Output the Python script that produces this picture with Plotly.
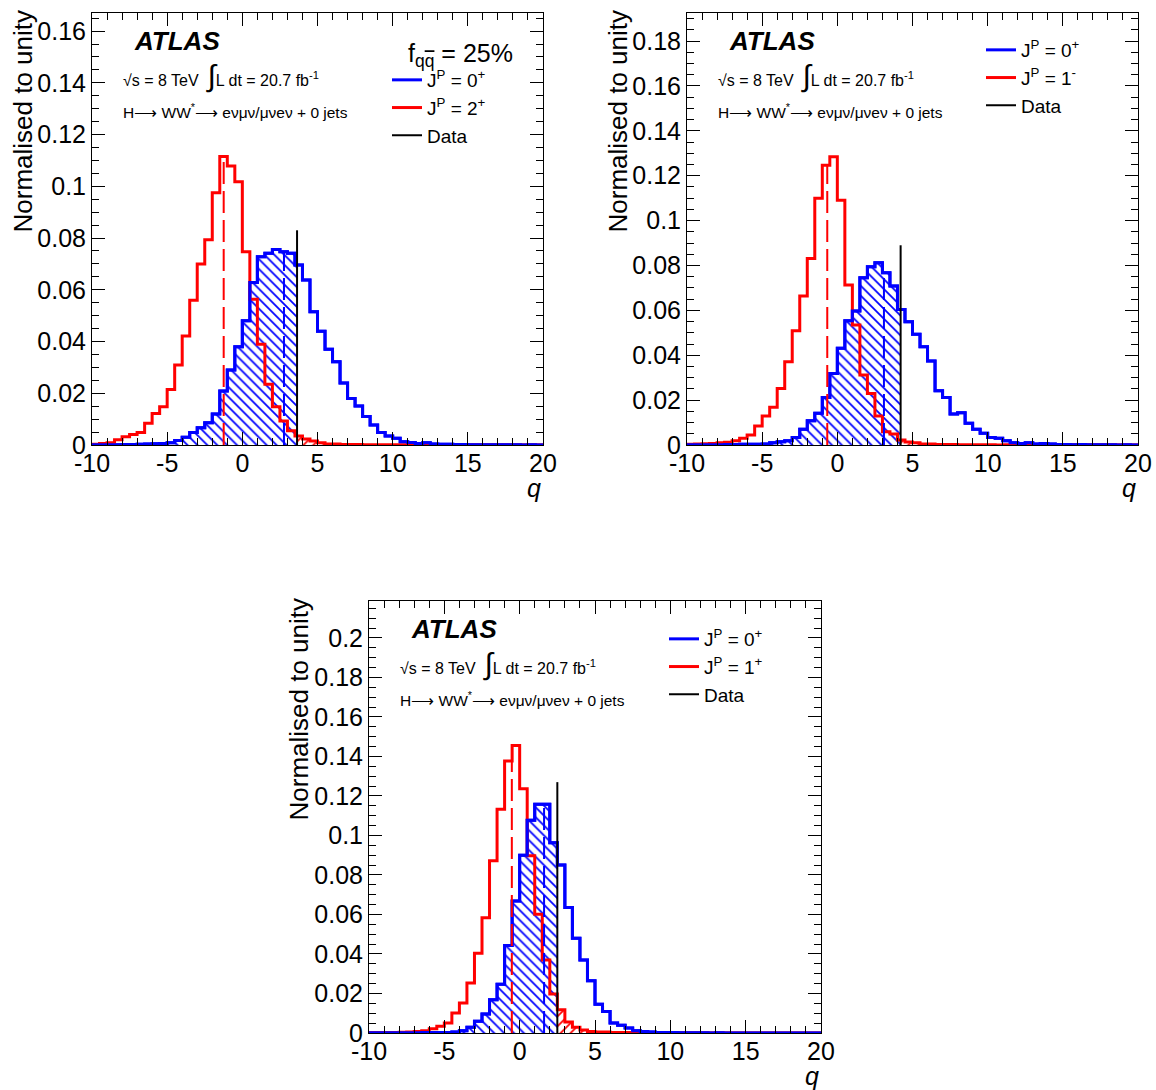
import numpy as np
import plotly.graph_objects as go

# ---------------- data ----------------
bin_lo, bin_w, n_bins = -10.0, 0.5, 60

# panel 1 : 0+ vs 2+ (f_qqbar = 25%)
p1_spin0 = [0.0001,0.0001,0.0001,0.0001,0.0002,0.0002,0.0003,0.0004,0.0005,0.0006,
            0.0009,0.0017,0.0030,0.0048,0.0067,0.0086,0.0120,0.0209,0.0290,0.0380,
            0.0480,0.0628,0.0728,0.0741,0.0756,0.0747,0.0741,0.0696,0.0638,0.0515,
            0.0440,0.0370,0.0322,0.0240,0.0180,0.0151,0.0110,0.0077,0.0048,0.0035,
            0.0026,0.0013,0.0010,0.0006,0.0009,0.0004,0.0003,0.0003,0.0002,0.0002,
            0.0001,0.0001,0.0001,0.0001,0.0001,0.0001,0.0001,0.0000,0.0001,0.0000]
p1_alt = [0.0003,0.0006,0.0009,0.0020,0.0032,0.0041,0.0048,0.0084,0.0122,0.0148,
          0.0215,0.0309,0.0421,0.0560,0.0700,0.0793,0.0975,0.1115,0.1079,0.1018,
          0.0747,0.0563,0.0389,0.0235,0.0148,0.0093,0.0055,0.0035,0.0023,0.0015,
          0.0009,0.0004,0.0004,0.0002,0.0002,0.0002,0.0001,0.0001,0.0001,0.0001,
          0.0001,0.0001,0.0001,0.0001,0.0000,0.0001,0.0000,0.0000,0.0001,0.0000,
          0.0000,0.0000,0.0000,0.0000,0.0000,0.0000,0.0000,0.0000,0.0000,0.0000]

# panel 2 : 0+ vs 1-
p2_spin0 = [0.0001,0.0001,0.0001,0.0001,0.0001,0.0002,0.0002,0.0003,0.0003,0.0003,
            0.0004,0.0010,0.0015,0.0019,0.0033,0.0070,0.0108,0.0141,0.0212,0.0319,
            0.0431,0.0554,0.0597,0.0745,0.0794,0.0812,0.0768,0.0708,0.0604,0.0549,
            0.0494,0.0438,0.0374,0.0242,0.0212,0.0138,0.0144,0.0097,0.0070,0.0052,
            0.0033,0.0030,0.0019,0.0010,0.0007,0.0010,0.0004,0.0007,0.0004,0.0002,
            0.0002,0.0001,0.0002,0.0001,0.0001,0.0001,0.0001,0.0000,0.0001,0.0000]
p2_alt = [0.0003,0.0004,0.0006,0.0007,0.0010,0.0012,0.0019,0.0030,0.0045,0.0085,
          0.0129,0.0168,0.0252,0.0371,0.0509,0.0664,0.0831,0.1099,0.1247,0.1284,
          0.1091,0.0713,0.0535,0.0312,0.0230,0.0129,0.0059,0.0049,0.0022,0.0013,
          0.0010,0.0004,0.0004,0.0002,0.0002,0.0002,0.0001,0.0001,0.0001,0.0001,
          0.0001,0.0000,0.0001,0.0000,0.0000,0.0000,0.0000,0.0000,0.0000,0.0000,
          0.0000,0.0000,0.0000,0.0000,0.0000,0.0000,0.0000,0.0000,0.0000,0.0000]

# panel 3 : 0+ vs 1+
p3_spin0 = [0.0001,0.0001,0.0001,0.0001,0.0001,0.0001,0.0001,0.0002,0.0002,0.0002,
            0.0003,0.0005,0.0012,0.0029,0.0059,0.0096,0.0168,0.0247,0.0443,0.0668,
            0.0900,0.1077,0.1158,0.1158,0.0963,0.0850,0.0635,0.0480,0.0370,0.0264,
            0.0146,0.0109,0.0051,0.0039,0.0025,0.0012,0.0008,0.0005,0.0003,0.0002,
            0.0002,0.0001,0.0001,0.0001,0.0001,0.0000,0.0001,0.0000,0.0000,0.0000,
            0.0000,0.0000,0.0000,0.0000,0.0000,0.0000,0.0000,0.0000,0.0000,0.0000]
p3_alt = [0.0002,0.0002,0.0003,0.0003,0.0004,0.0005,0.0008,0.0012,0.0022,0.0034,
          0.0051,0.0101,0.0152,0.0253,0.0404,0.0584,0.0872,0.1133,0.1377,0.1456,
          0.1237,0.0897,0.0601,0.0370,0.0197,0.0118,0.0056,0.0029,0.0015,0.0008,
          0.0005,0.0005,0.0003,0.0002,0.0002,0.0001,0.0001,0.0001,0.0001,0.0000,
          0.0000,0.0000,0.0000,0.0000,0.0000,0.0000,0.0000,0.0000,0.0000,0.0000,
          0.0000,0.0000,0.0000,0.0000,0.0000,0.0000,0.0000,0.0000,0.0000,0.0000]

alt_labels = ["J<sup>P</sup> = 2<sup>+</sup>", "J<sup>P</sup> = 1<sup>-</sup>", "J<sup>P</sup> = 1<sup>+</sup>"]
spin0_label = "J<sup>P</sup> = 0<sup>+</sup>"
q_observed = [3.64, 4.21, 2.50]
data_line_top = [0.083, 0.089, 0.127]
median_spin0 = [2.77, 3.10, 1.62]
median_alt = [-1.24, -0.67, -0.52]
y_max = [0.167, 0.1925, 0.2187]
y_tick_step = 0.02
x_tick_vals = [-10, -5, 0, 5, 10, 15, 20]
x_tick_text = ["-10", "-5", "0", "5", "10", "15", "20"]

# ---------------- layout geometry (screen pixels) ----------------
W, H = 1156, 1090
panels_px = [(92, 13, 543, 445), (687, 13, 1138, 445), (369, 601, 821, 1033)]
legend_px = [(387, 61), (981, 31), (664, 620)]
ytitle_px = [(22, 8), (617, 8), (298, 596)]

def PX(X): return X / W
def PY(Y): return 1 - Y / H

FONT = "Liberation Sans, Arial, Helvetica, sans-serif"
BLUE, RED = "rgb(0,0,255)", "rgb(255,0,0)"

edges = bin_lo + bin_w * np.arange(n_bins + 1)

def step_xy(vals):
    v = list(vals)
    return list(edges), v + [v[-1]]

def bin_value(vals, x):
    i = int(np.floor((x - bin_lo) / bin_w))
    return vals[i]

fig = go.Figure()
series = [(p1_spin0, p1_alt), (p2_spin0, p2_alt), (p3_spin0, p3_alt)]

for p, (s0, alt) in enumerate(series):
    ax = "" if p == 0 else str(p + 1)
    xa, ya = "x" + ax, "y" + ax
    leg = "legend" + ax
    qd = q_observed[p]
    k = int(np.floor((qd - bin_lo) / bin_w))
    # blue hatched: left of data
    hx = list(edges[:k + 1]) + [qd]
    hy = list(s0[:k + 1]) + [s0[k]]
    fig.add_trace(go.Scatter(x=hx, y=hy, mode="lines", line=dict(width=0, shape="hv"),
                             fill="tozeroy", fillcolor="rgba(0,0,0,0)",
                             fillpattern=dict(shape="\\", fgcolor=BLUE, bgcolor="rgba(0,0,0,0)",
                                              fgopacity=1, size=7, solidity=0.25),
                             xaxis=xa, yaxis=ya, showlegend=False, hoverinfo="skip"))
    # red hatched: right of data
    rx = [qd] + list(edges[k + 1:])
    ry = [alt[k]] + list(alt[k + 1:]) + [alt[-1]]
    fig.add_trace(go.Scatter(x=rx, y=ry, mode="lines", line=dict(width=0, shape="hv"),
                             fill="tozeroy", fillcolor="rgba(0,0,0,0)",
                             fillpattern=dict(shape="/", fgcolor=RED, bgcolor="rgba(0,0,0,0)",
                                              fgopacity=1, size=7, solidity=0.25),
                             xaxis=xa, yaxis=ya, showlegend=False, hoverinfo="skip"))
    bx, by = step_xy(s0)
    ax_, ay_ = step_xy(alt)
    fig.add_trace(go.Scatter(x=bx, y=by, mode="lines", line=dict(color=BLUE, width=3, shape="hv"),
                             name=spin0_label, xaxis=xa, yaxis=ya, legend=leg, legendrank=1))
    fig.add_trace(go.Scatter(x=ax_, y=ay_, mode="lines", line=dict(color=RED, width=3, shape="hv"),
                             name=alt_labels[p], xaxis=xa, yaxis=ya, legend=leg, legendrank=2))
    fig.add_trace(go.Scatter(x=bx, y=by, mode="lines", line=dict(color=BLUE, width=3, shape="hv"),
                             xaxis=xa, yaxis=ya, showlegend=False, hoverinfo="skip"))
    ma, ms = median_alt[p], median_spin0[p]
    fig.add_trace(go.Scatter(x=[ma, ma], y=[0, bin_value(alt, ma)], mode="lines",
                             line=dict(color=RED, width=2, dash="22px,7px"),
                             xaxis=xa, yaxis=ya, showlegend=False, hoverinfo="skip"))
    fig.add_trace(go.Scatter(x=[ms, ms], y=[0, bin_value(s0, ms)], mode="lines",
                             line=dict(color=BLUE, width=2, dash="22px,7px"),
                             xaxis=xa, yaxis=ya, showlegend=False, hoverinfo="skip"))
    fig.add_trace(go.Scatter(x=[qd, qd], y=[0, data_line_top[p]], mode="lines",
                             line=dict(color="black", width=2),
                             name="Data", xaxis=xa, yaxis=ya, legend=leg, legendrank=3))

layout = dict(width=W, height=H, margin=dict(l=0, r=0, t=0, b=0, autoexpand=False),
              paper_bgcolor="white", plot_bgcolor="white", hovermode=False,
              font=dict(family=FONT, color="black"), annotations=[])

for p, (x0, y0, x1, y1) in enumerate(panels_px):
    ax = "" if p == 0 else str(p + 1)
    ymx = y_max[p]
    yt = [round(i * y_tick_step, 2) for i in range(int(ymx / y_tick_step) + 1)]
    ytt = ["0" if v == 0 else ("%g" % v) for v in yt]
    common = dict(showline=True, linecolor="black", linewidth=1, mirror="ticks",
                  ticks="inside", ticklen=13, tickwidth=1, tickcolor="black", automargin=False,
                  showgrid=False, zeroline=False, tickfont=dict(size=25, family=FONT))
    layout["xaxis" + ax] = dict(common, domain=[PX(x0), PX(x1)], range=[-10, 20],
                                anchor="y" + ax, tickmode="array", tickvals=x_tick_vals,
                                ticktext=x_tick_text, ticklabelstandoff=-4,
                                minor=dict(tickmode="linear", tick0=0, dtick=1, ticks="inside",
                                           ticklen=7, tickcolor="black"))
    layout["yaxis" + ax] = dict(common, domain=[PY(y1), PY(y0)], range=[0, ymx],
                                anchor="x" + ax, tickmode="array", tickvals=yt, ticktext=ytt,
                                minor=dict(tickmode="linear", tick0=0, dtick=0.005,
                                           ticks="inside", ticklen=7, tickcolor="black"))
    lx, ly = legend_px[p]
    layout["legend" + ax] = dict(x=PX(lx), y=PY(ly), xanchor="left", yanchor="top",
                                 bgcolor="rgba(0,0,0,0)", font=dict(size=19, family=FONT),
                                 itemwidth=30, tracegroupgap=0, traceorder="normal")
    pw, ph = x1 - x0, y1 - y0
    def dx(px): return (px - x0) / pw
    def dy(py): return 1 - (py - y0) / ph
    xr, yr = "x" + ax + " domain", "y" + ax + " domain"
    ann = layout["annotations"]
    ann.append(dict(text="<b><i>ATLAS</i></b>", x=dx(x0 + 40), y=dy(y0 + 28), xref=xr, yref=yr,
                    xanchor="left", yanchor="middle", showarrow=False, font=dict(size=26)))
    ann.append(dict(text="√s = 8 TeV  <span style='font-size:30px'>∫</span>L dt = 20.7 fb<sup>-1</sup>",
                    x=dx(x0 + 29), y=dy(y0 + 63), xref=xr, yref=yr,
                    xanchor="left", yanchor="middle", showarrow=False, font=dict(size=16)))
    ann.append(dict(text="H⟶ WW<sup>*</sup>⟶ eνμν/μνeν + 0 jets",
                    x=dx(x0 + 29), y=dy(y0 + 98), xref=xr, yref=yr,
                    xanchor="left", yanchor="middle", showarrow=False, font=dict(size=15.5)))
    ann.append(dict(text="<i>q</i>", x=1, y=PY(y1 + 43), xref=xr, yref="paper",
                    xanchor="right", yanchor="middle", showarrow=False, font=dict(size=25)))
    tx, ty = ytitle_px[p]
    ann.append(dict(text="Normalised to unity", x=PX(tx), y=PY(ty), xref="paper", yref="paper",
                    xanchor="center", yanchor="top", textangle=-90, showarrow=False,
                    font=dict(size=26)))

layout["annotations"].append(dict(
    text="f<sub>q<span style='text-decoration:overline'>q</span></sub> = 25%",
    x=(406 - 92) / 451, y=1 - (55 - 13) / 432,
    xref="x domain", yref="y domain", xanchor="left", yanchor="middle",
    showarrow=False, font=dict(size=25)))

fig.update_layout(**layout)
fig.write_html("out.html", config={"displayModeBar": False, "staticPlot": True},
               post_script="document.body.style.margin='0';document.body.style.overflow='hidden';")
